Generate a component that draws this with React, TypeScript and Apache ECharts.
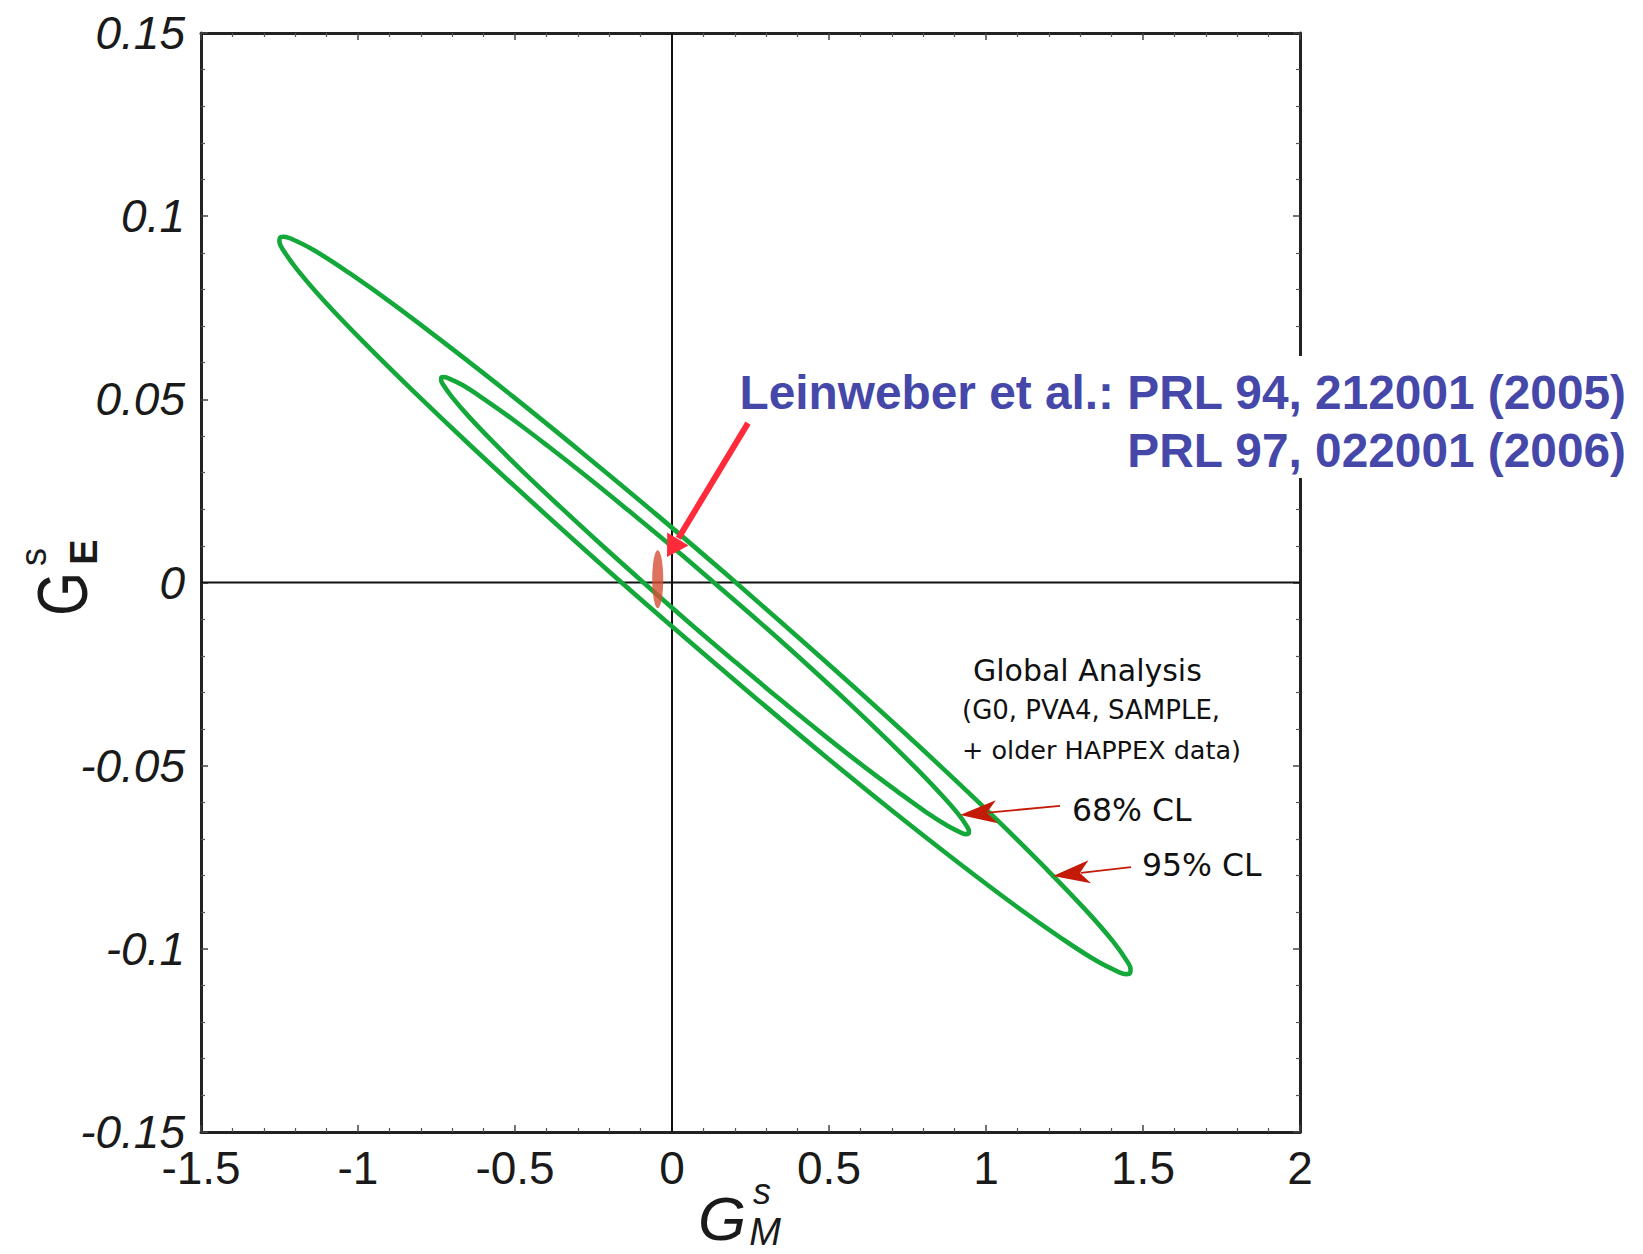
import React, { useEffect, useRef } from 'react';
import * as echarts from 'echarts';

// 95% CL contour (global analysis) (starting mid upper edge)
const outer95X = [0.1832, -0.053, -0.2844, -0.5041, -0.7052, -0.8815, -1.0281, -1.1402, -1.2144, -1.2366, -1.2485, -1.2502, -1.2415, -1.1936, -1.1062, -0.982, -0.8248, -0.6394, -0.4312, -0.2068, 0.027, 0.2632, 0.4946, 0.7143, 0.9154, 1.0917, 1.2383, 1.3504, 1.4246, 1.4468, 1.4587, 1.4604, 1.4517, 1.4038, 1.3164, 1.1922, 1.035, 0.8496, 0.6414, 0.417];
const outer95Y = [0.0015, 0.0188, 0.0353, 0.0506, 0.0641, 0.0756, 0.0845, 0.0907, 0.0939, 0.0944, 0.0941, 0.093, 0.0912, 0.0854, 0.0767, 0.0656, 0.0523, 0.0372, 0.0208, 0.0035, -0.014, -0.0313, -0.0479, -0.0632, -0.0767, -0.0881, -0.097, -0.1032, -0.1064, -0.1069, -0.1066, -0.1056, -0.1037, -0.0979, -0.0893, -0.0782, -0.0648, -0.0497, -0.0333, -0.0161];

// 68% CL contour
const inner68X = [0.1536, 0.0072, -0.1364, -0.2726, -0.3974, -0.5068, -0.5976, -0.6672, -0.7132, -0.727, -0.7344, -0.7354, -0.7301, -0.7004, -0.6462, -0.5692, -0.4717, -0.3567, -0.2276, -0.0884, 0.0566, 0.203, 0.3466, 0.4828, 0.6076, 0.717, 0.8078, 0.8774, 0.9234, 0.9372, 0.9446, 0.9456, 0.9403, 0.9106, 0.8564, 0.7794, 0.6819, 0.5669, 0.4378, 0.2986];
const inner68Y = [-0.0015, 0.0093, 0.0195, 0.029, 0.0374, 0.0445, 0.05, 0.0539, 0.0558, 0.0561, 0.056, 0.0553, 0.0542, 0.0506, 0.0452, 0.0383, 0.03, 0.0207, 0.0105, -0.0002, -0.0111, -0.0218, -0.0321, -0.0416, -0.05, -0.057, -0.0626, -0.0664, -0.0684, -0.0687, -0.0685, -0.0679, -0.0667, -0.0631, -0.0578, -0.0509, -0.0426, -0.0332, -0.023, -0.0123];

// Lattice QCD result (Leinweber et al.)
const latticeX = [-0.0455];
const latticeY = [0.0009];

const xRange = [-1.5, 2];
const yRange = [-0.15, 0.15];

// annotation arrows in data coordinates: [tail, tip]
const leinweberArrow = [[0.242, 0.0435], [-0.0159, 0.00696]];
const cl68Arrow = [[1.2357, -0.061], [0.9172, -0.0635]];
const cl95Arrow = [[1.4618, -0.0777], [1.2134, -0.0801]];

const FONT = '"Liberation Sans", Arial, Helvetica, sans-serif';
const FONT2 = '"DejaVu Sans", Verdana, sans-serif';

function closed(xs: number[], ys: number[]) {
  const pts = xs.map((x, i) => [x, ys[i]]);
  pts.push([xs[0], ys[0]]);
  return pts;
}

export default function App() {
  const ref = useRef<HTMLDivElement>(null);
  useEffect(() => {
    document.body.style.margin = '0';
    const chart = echarts.init(ref.current!, undefined, { renderer: 'svg' });

    const axisCommon = {
      type: 'value' as const,
      splitLine: { show: false },
      axisLine: { show: true, onZero: false, lineStyle: { color: '#222', width: 3 } },
      axisTick: { show: true, inside: true, length: 7, lineStyle: { color: '#444', width: 1.5 } },
      minorTick: { show: true, splitNumber: 5, length: 4, lineStyle: { color: '#555', width: 1.2 } },
    };

    const green = '#14a83b';

    chart.setOption({
      animation: false,
      backgroundColor: '#ffffff',
      grid: { left: 201, top: 33, width: 1099, height: 1099, containLabel: false },
      xAxis: [
        {
          ...axisCommon,
          position: 'bottom',
          min: xRange[0],
          max: xRange[1],
          interval: 0.5,
          axisLabel: { show: true, fontSize: 46, fontFamily: FONT, color: '#1a1a1a', margin: 13 },
        },
        {
          ...axisCommon,
          position: 'top',
          min: xRange[0],
          max: xRange[1],
          interval: 0.5,
          axisLabel: { show: false },
        },
      ],
      yAxis: [
        {
          ...axisCommon,
          position: 'left',
          min: yRange[0],
          max: yRange[1],
          interval: 0.05,
          axisLabel: { show: true, fontSize: 46, fontFamily: FONT, fontStyle: 'italic', color: '#1a1a1a', margin: 16 },
        },
        {
          ...axisCommon,
          position: 'right',
          min: yRange[0],
          max: yRange[1],
          interval: 0.05,
          axisLabel: { show: false },
        },
      ],
      series: [
        {
          type: 'line',
          name: 'x0',
          data: [[0, yRange[0]], [0, yRange[1]]],
          showSymbol: false,
          lineStyle: { color: '#111', width: 2 },
          z: 1,
          silent: true,
        },
        {
          type: 'line',
          name: 'y0',
          data: [[xRange[0], 0], [xRange[1], 0]],
          showSymbol: false,
          lineStyle: { color: '#111', width: 2 },
          z: 1,
          silent: true,
        },
        {
          type: 'line',
          name: '95% CL',
          data: closed(outer95X, outer95Y),
          showSymbol: false,
          smooth: 0.4,
          lineStyle: { color: green, width: 4.6, join: 'round', cap: 'round' },
          z: 2,
        },
        {
          type: 'line',
          name: '68% CL',
          data: closed(inner68X, inner68Y),
          showSymbol: false,
          smooth: 0.4,
          lineStyle: { color: green, width: 4.6, join: 'round', cap: 'round' },
          z: 2,
        },
        {
          type: 'scatter',
          name: 'Leinweber',
          data: latticeX.map((x, i) => [x, latticeY[i]]),
          symbol: 'circle',
          symbolSize: [11, 58],
          itemStyle: { color: '#d64f35' },
          z: 3,
        },
      ],
    });

    const toPx = (p: number[]) => chart.convertToPixel({ gridIndex: 0 }, p) as number[];
    const elements: any[] = [];

    // white text box behind the citation (covers the right spine)
    elements.push({ type: 'rect', z: 100, shape: { x: 1286, y: 356, width: 30, height: 122 }, style: { fill: '#ffffff' } });

    const arrow = (seg: number[][], color: string, shaftW: number, headLen: number, headHalf: number, notch: number) => {
      const T = toPx(seg[0]);
      const P = toPx(seg[1]);
      const dx = T[0] - P[0];
      const dy = T[1] - P[1];
      const L = Math.hypot(dx, dy);
      const ux = dx / L, uy = dy / L;
      const px = -uy, py = ux;
      const nb = [P[0] + ux * notch, P[1] + uy * notch];
      elements.push({
        type: 'line', z: 110,
        shape: { x1: T[0], y1: T[1], x2: nb[0] + ux * 1, y2: nb[1] + uy * 1 },
        style: { stroke: color, lineWidth: shaftW },
      });
      elements.push({
        type: 'polygon', z: 111,
        shape: {
          points: [
            [P[0], P[1]],
            [P[0] + ux * headLen + px * headHalf, P[1] + uy * headLen + py * headHalf],
            nb,
            [P[0] + ux * headLen - px * headHalf, P[1] + uy * headLen - py * headHalf],
          ],
        },
        style: { fill: color },
      });
    };
    arrow(leinweberArrow, '#ff2b3b', 6, 21, 12.5, 21);
    arrow(cl68Arrow, '#c41a08', 1.8, 37, 11.5, 27);
    arrow(cl95Arrow, '#c41a08', 1.8, 37, 11.5, 27);

    const txt = (text: string, x: number, y: number, font: string, fill: string, align: string, extra: any = {}) => {
      elements.push({ type: 'text', z: 120, x, y, ...extra, style: { text, font, fill, align, verticalAlign: 'middle' } });
    };

    // citation
    txt('Leinweber et al.: PRL 94, 212001 (2005)', 1626, 392, `bold 47.8px ${FONT}`, '#4548a9', 'right');
    txt('PRL 97, 022001 (2006)', 1626, 450, `bold 47.8px ${FONT}`, '#4548a9', 'right');

    // global analysis label
    txt('Global Analysis', 973, 670, `30px ${FONT2}`, '#111', 'left');
    txt('(G0, PVA4, SAMPLE,', 962, 710, `26px ${FONT2}`, '#111', 'left');
    txt('+ older HAPPEX data)', 962, 750, `25.5px ${FONT2}`, '#111', 'left');
    txt('68% CL', 1072, 810, `31.5px ${FONT2}`, '#111', 'left');
    txt('95% CL', 1142, 865, `31.5px ${FONT2}`, '#111', 'left');

    // x axis title G_M^s
    txt('G', 722, 1218, `italic 62px ${FONT}`, '#1a1a1a', 'center');
    txt('s', 762, 1191, `italic 36px ${FONT}`, '#1a1a1a', 'center');
    txt('M', 765, 1232, `italic 38px ${FONT}`, '#1a1a1a', 'center');

    // y axis title G_E^s (rotated)
    txt('G', 63, 594, `70px ${FONT}`, '#1a1a1a', 'center', { rotation: Math.PI / 2, scaleX: 0.8 });
    txt('s', 33, 557, `36px ${FONT}`, '#1a1a1a', 'center', { rotation: Math.PI / 2 });
    txt('E', 84, 552, `bold 38px ${FONT}`, '#1a1a1a', 'center', { rotation: Math.PI / 2 });

    chart.setOption({ graphic: { elements } });

    return () => chart.dispose();
  }, []);
  return <div ref={ref} style={{ position: 'absolute', left: 0, top: 0, width: 1643, height: 1254, background: '#fff' }} />;
}
